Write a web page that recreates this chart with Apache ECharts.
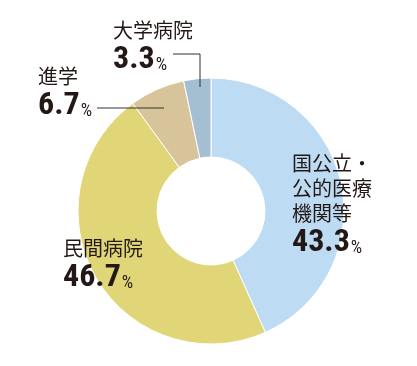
<!DOCTYPE html>
<html><head><meta charset="utf-8">
<script src="https://cdn.jsdelivr.net/npm/echarts@6/dist/echarts.min.js"></script>
<style>html,body{margin:0;padding:0;background:#fff}#c{width:417px;height:366px}</style>
</head><body><div id="c"></div>
<script>
var categories = ['国公立・\n公的医療\n機関等', '民間病院', '進学', '大学病院'];
var values = [43.3, 46.7, 6.7, 3.3];
var colors = ['#bddcf3', '#e0d577', '#d8c49a', '#a4bfd2'];

var labelPos = [
  {x: 292, y: 151},
  {x: 63, y: 236},
  {x: 38, y: 64},
  {x: 113, y: 18}
];
var linePts = [
  null,
  null,
  [[164, 108], [130, 108], [97, 108]],
  [[200, 87], [200, 54], [173, 54]]
];

var numFont = '"Roboto Condensed", Oswald, sans-serif';
var common = {
  type: 'pie',
  center: [211, 211],
  radius: [54, 133],
  startAngle: 90,
  clockwise: true,
  avoidLabelOverlap: false
};

var chart = echarts.init(document.getElementById('c'));
chart.setOption({
  animation: false,
  series: [
    Object.assign({}, common, {
      z: 2,
      itemStyle: {borderColor: '#fff', borderWidth: 1},
      label: {show: false},
      labelLine: {show: false},
      data: categories.map(function (c, i) {
        return {name: c, value: values[i], itemStyle: {color: colors[i]}};
      })
    }),
    Object.assign({}, common, {
      z: 5,
      silent: true,
      itemStyle: {color: 'rgba(0,0,0,0)', borderWidth: 0},
      labelLine: {show: true, lineStyle: {color: '#333', width: 1}},
      label: {
        show: true,
        position: 'outside',
        formatter: function (p) {
          var lines = p.name.split('\n').map(function (s) { return '{n|' + s + '}'; }).join('\n');
          return lines + '\n{v|' + p.value.toFixed(1) + '}{p|%}';
        },
        rich: {
          n: {fontSize: 20, lineHeight: 25, color: '#231815', fontFamily: 'Noto Sans CJK JP'},
          v: {fontSize: 32, lineHeight: 34, color: '#231815', fontWeight: 'bold', fontFamily: numFont},
          p: {fontSize: 18, lineHeight: 34, color: '#231815', fontFamily: numFont, verticalAlign: 'bottom', padding: [0, 0, 3, 1]}
        }
      },
      labelLayout: function (params) {
        var i = params.dataIndex;
        var r = {x: labelPos[i].x, y: labelPos[i].y, align: 'left', verticalAlign: 'top'};
        if (linePts[i]) r.labelLinePoints = linePts[i];
        return r;
      },
      data: categories.map(function (c, i) {
        return {name: c, value: values[i], labelLine: {show: !!linePts[i]}};
      })
    })
  ]
});
</script></body></html>
